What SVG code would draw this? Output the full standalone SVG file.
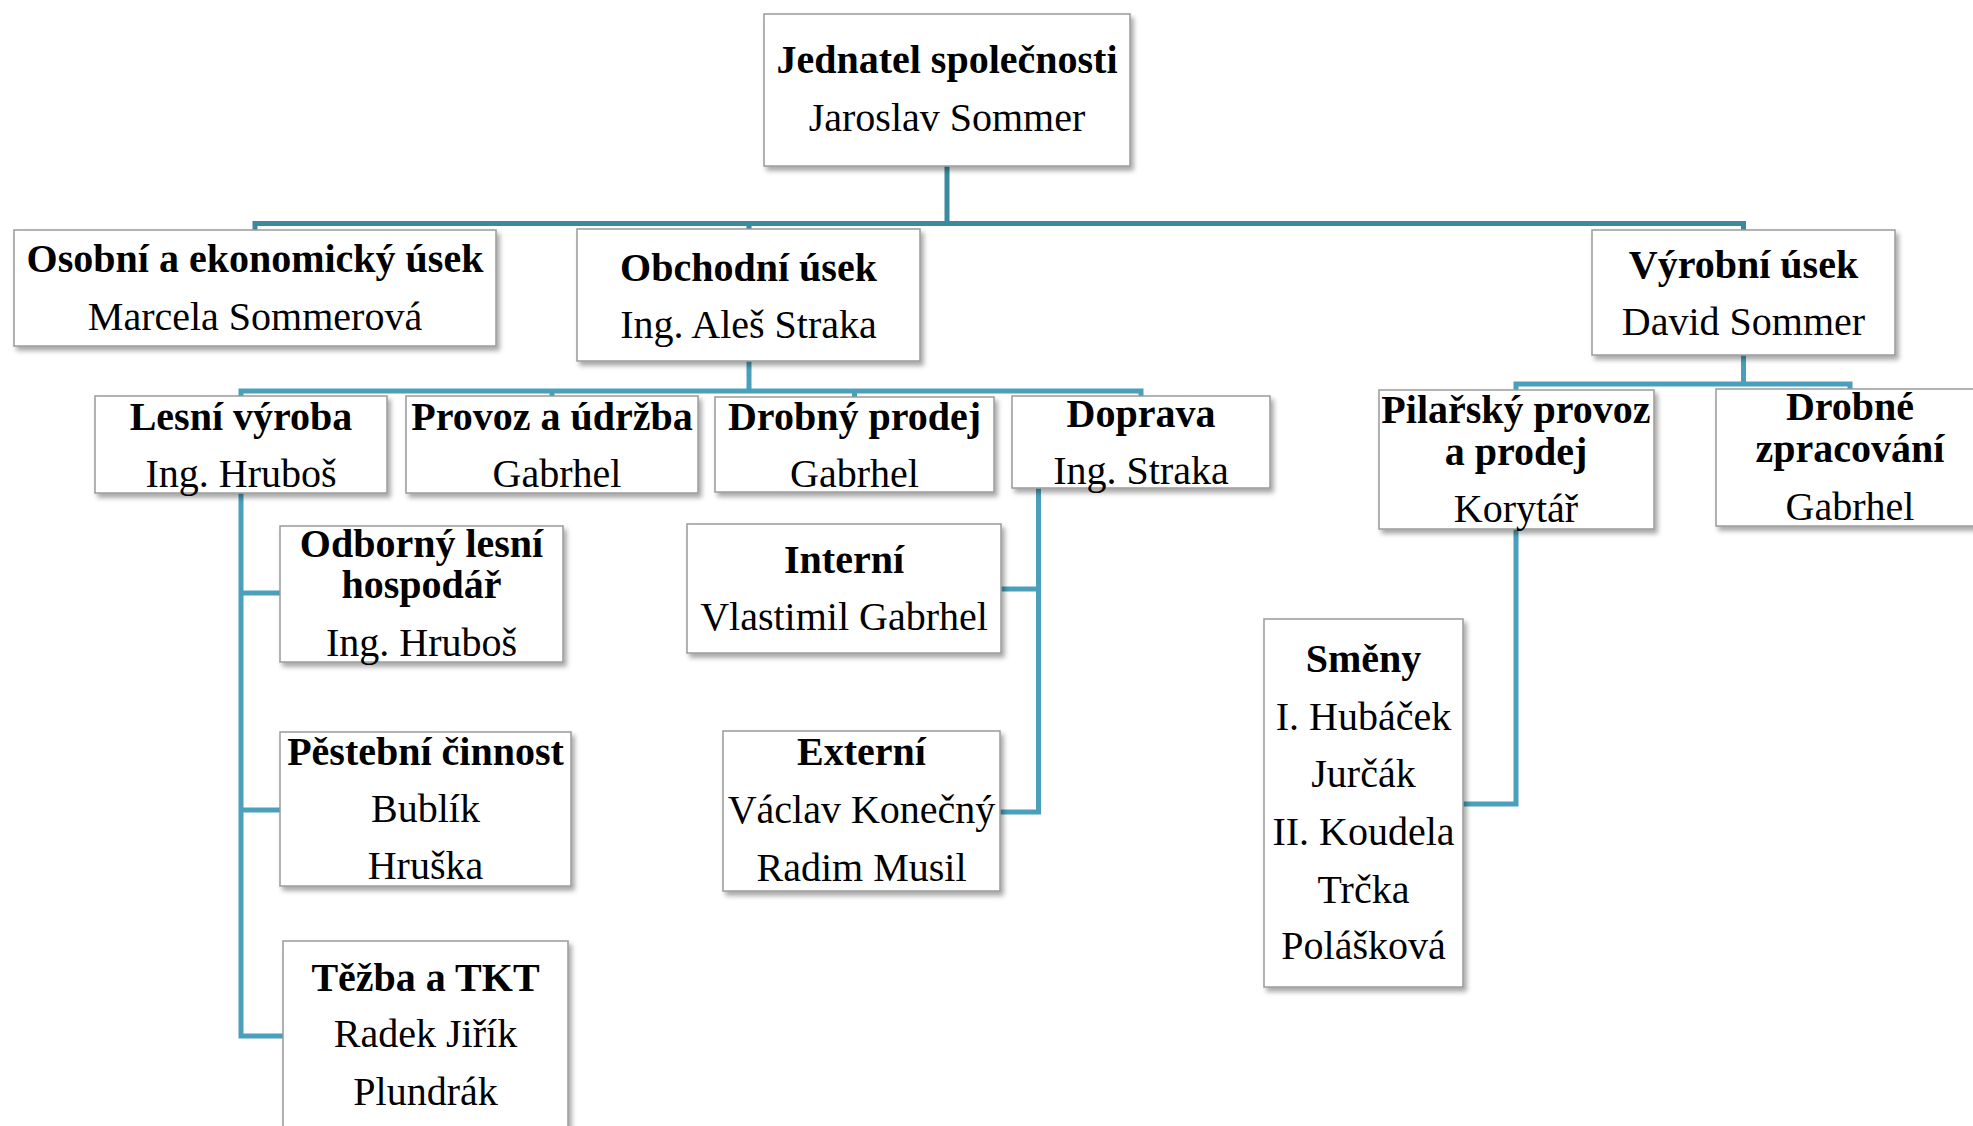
<svg xmlns="http://www.w3.org/2000/svg" width="1973" height="1126" viewBox="0 0 1973 1126">
<defs>
<filter id="sh" x="-10%" y="-10%" width="130%" height="130%">
<feDropShadow dx="3" dy="4" stdDeviation="2.5" flood-color="#000" flood-opacity="0.35"/>
</filter>
<style>
.box{fill:#fff;stroke:#9a9a9a;stroke-width:1.5;filter:url(#sh)}
.t{font-family:"Liberation Serif","Times New Roman",serif;font-size:40px;fill:#000;text-anchor:middle}
.b{font-weight:bold}
.c1{fill:none;stroke:#3b8a9f;stroke-width:5;stroke-linejoin:miter;stroke-linecap:butt}
.c2{fill:none;stroke:#4a9fba;stroke-width:5;stroke-linejoin:miter;stroke-linecap:butt}
</style>
</defs>
<rect width="1973" height="1126" fill="#fff"/>
<g id="connectors">
<path class="c1" d="M947 166V223.5M255 231V223.5H1743.5V231M749 223.5V230"/>
<path class="c2" d="M749 361V391M241 397V391H1141V397M552 391V397M854.5 391V398"/>
<path class="c2" d="M241 493V1036H283M241 593H280M241 810H280"/>
<path class="c2" d="M1038.5 488V812H1000M1038.5 589H1001"/>
<path class="c2" d="M1743.5 355V384M1516 391V384H1850V390"/>
<path class="c2" d="M1516 529V804H1463"/>
</g>
<g id="n-jednatel">
<rect class="box" x="764" y="14" width="366" height="152"/>
<text class="t b" x="947" y="73">Jednatel společnosti</text>
<text class="t" x="947" y="131">Jaroslav Sommer</text>
</g>
<g id="n-osobni">
<rect class="box" x="14" y="230" width="482" height="116"/>
<text class="t b" x="255" y="272">Osobní a ekonomický úsek</text>
<text class="t" x="255" y="330">Marcela Sommerová</text>
</g>
<g id="n-obchodni">
<rect class="box" x="577" y="229" width="343" height="132"/>
<text class="t b" x="748.5" y="281">Obchodní úsek</text>
<text class="t" x="748.5" y="338">Ing. Aleš Straka</text>
</g>
<g id="n-vyrobni">
<rect class="box" x="1592" y="230" width="303" height="125"/>
<text class="t b" x="1743.5" y="278">Výrobní úsek</text>
<text class="t" x="1743.5" y="335">David Sommer</text>
</g>
<g id="n-lesni">
<rect class="box" x="95" y="396" width="292" height="97"/>
<text class="t b" x="241" y="430">Lesní výroba</text>
<text class="t" x="241" y="487">Ing. Hruboš</text>
</g>
<g id="n-provoz">
<rect class="box" x="406" y="396" width="292" height="97"/>
<text class="t b" x="552" y="430">Provoz a údržba</text>
<text class="t" x="557" y="487">Gabrhel</text>
</g>
<g id="n-drobny-prodej">
<rect class="box" x="715" y="397" width="279" height="95"/>
<text class="t b" x="854.5" y="430">Drobný prodej</text>
<text class="t" x="854.5" y="487">Gabrhel</text>
</g>
<g id="n-doprava">
<rect class="box" x="1012" y="396" width="258" height="92"/>
<text class="t b" x="1141" y="427">Doprava</text>
<text class="t" x="1141" y="484">Ing. Straka</text>
</g>
<g id="n-odborny">
<rect class="box" x="280" y="526" width="283" height="136"/>
<text class="t b" x="421.5" y="557">Odborný lesní</text>
<text class="t b" x="421.5" y="598">hospodář</text>
<text class="t" x="421.5" y="656">Ing. Hruboš</text>
</g>
<g id="n-pestebni">
<rect class="box" x="280" y="732" width="291" height="154"/>
<text class="t b" x="425.5" y="765">Pěstební činnost</text>
<text class="t" x="425.5" y="822">Bublík</text>
<text class="t" x="425.5" y="879">Hruška</text>
</g>
<g id="n-tezba">
<rect class="box" x="283" y="941" width="285" height="220"/>
<text class="t b" x="425.5" y="991">Těžba a TKT</text>
<text class="t" x="425.5" y="1047">Radek Jiřík</text>
<text class="t" x="425.5" y="1105">Plundrák</text>
</g>
<g id="n-interni">
<rect class="box" x="687" y="524" width="314" height="129"/>
<text class="t b" x="844" y="573">Interní</text>
<text class="t" x="844" y="630">Vlastimil Gabrhel</text>
</g>
<g id="n-externi">
<rect class="box" x="723" y="731" width="277" height="160"/>
<text class="t b" x="861.5" y="765">Externí</text>
<text class="t" x="861.5" y="823">Václav Konečný</text>
<text class="t" x="861.5" y="881">Radim Musil</text>
</g>
<g id="n-pilarsky">
<rect class="box" x="1379" y="390" width="275" height="139"/>
<text class="t b" x="1516" y="423">Pilařský provoz</text>
<text class="t b" x="1516" y="465">a prodej</text>
<text class="t" x="1516" y="522">Korytář</text>
</g>
<g id="n-drobne-zpracovani">
<rect class="box" x="1716" y="389" width="269" height="137"/>
<text class="t b" x="1850" y="420">Drobné</text>
<text class="t b" x="1850" y="462">zpracování</text>
<text class="t" x="1850" y="520">Gabrhel</text>
</g>
<g id="n-smeny">
<rect class="box" x="1264" y="619" width="199" height="368"/>
<text class="t b" x="1363.5" y="672">Směny</text>
<text class="t" x="1363.5" y="730">I. Hubáček</text>
<text class="t" x="1363.5" y="787">Jurčák</text>
<text class="t" x="1363.5" y="845">II. Koudela</text>
<text class="t" x="1363.5" y="903">Trčka</text>
<text class="t" x="1363.5" y="959">Polášková</text>
</g>
</svg>
